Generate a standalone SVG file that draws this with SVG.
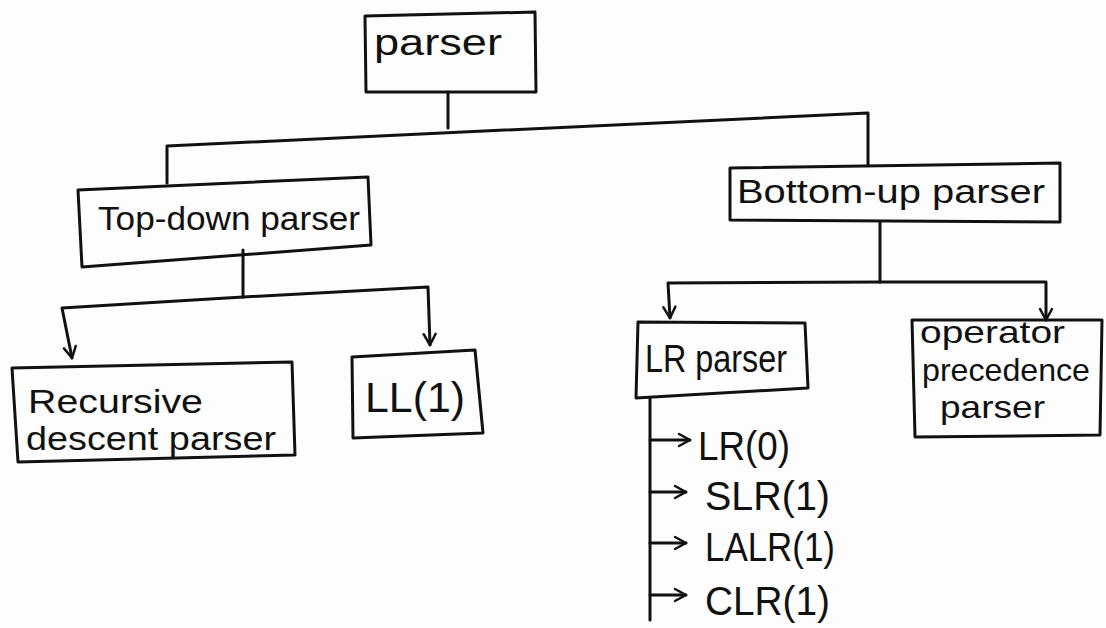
<svg xmlns="http://www.w3.org/2000/svg" width="1106" height="628" viewBox="0 0 1106 628">
<style>
.box{fill:none;stroke:#111;stroke-width:3;stroke-linejoin:round}
.ln{fill:none;stroke:#111;stroke-width:3;stroke-linecap:round;stroke-linejoin:round}
.t{font-family:"Liberation Sans",Arial,sans-serif;fill:#111}
</style>
<defs>
<marker id="ah" viewBox="0 0 16 16" refX="14" refY="8" markerWidth="16" markerHeight="16" markerUnits="userSpaceOnUse" orient="auto">
<path d="M3,2 L14,8 L3,14" fill="none" stroke="#111" stroke-width="2.5" stroke-linecap="round" stroke-linejoin="round"/>
</marker>
</defs>
<rect width="1106" height="628" fill="#fdfdfd"/>
<g id="connectors">
<path class="ln" d="M448,92 L448,128"/>
<path class="ln" d="M167,183 L167,146 L868,113 L868,165"/>
<path class="ln" d="M243,250 L243,297"/>
<path class="ln" d="M243,297 L62,308 L72,358" marker-end="url(#ah)"/>
<path class="ln" d="M243,297 L428,287 L430,345" marker-end="url(#ah)"/>
<path class="ln" d="M880,222 L880,282"/>
<path class="ln" d="M880,282 L668,283 L670,318" marker-end="url(#ah)"/>
<path class="ln" d="M880,282 L1046,282 L1046,320" marker-end="url(#ah)"/>
<path class="ln" d="M650,398 L650,620"/>
<path class="ln" d="M650,440 L690,440" marker-end="url(#ah)"/>
<path class="ln" d="M650,492 L686,492" marker-end="url(#ah)"/>
<path class="ln" d="M650,543 L686,543" marker-end="url(#ah)"/>
<path class="ln" d="M650,595 L686,595" marker-end="url(#ah)"/>
</g>
<g id="parser">
<polygon class="box" points="365,16 535,12 536,92 366,92"/>
<text class="t" x="374" y="55" font-size="36" textLength="128" lengthAdjust="spacingAndGlyphs">parser</text>
</g>
<g id="top-down">
<polygon class="box" points="78,190 368,177 371,245 82,267"/>
<text class="t" x="98" y="230" font-size="33" textLength="262" lengthAdjust="spacingAndGlyphs">Top-down parser</text>
</g>
<g id="bottom-up">
<polygon class="box" points="730,168 1060,163 1060,222 730,220"/>
<text class="t" x="737" y="203" font-size="34" textLength="308" lengthAdjust="spacingAndGlyphs">Bottom-up parser</text>
</g>
<g id="recursive">
<polygon class="box" points="12,368 292,362 295,455 18,462"/>
<text class="t" x="28" y="413" font-size="34" textLength="175" lengthAdjust="spacingAndGlyphs">Recursive</text>
<text class="t" x="26" y="450" font-size="34" textLength="250" lengthAdjust="spacingAndGlyphs">descent parser</text>
</g>
<g id="ll1">
<polygon class="box" points="352,357 475,350 483,433 353,438"/>
<text class="t" x="365" y="412" font-size="42" textLength="100" lengthAdjust="spacingAndGlyphs">LL(1)</text>
</g>
<g id="lr-parser">
<polygon class="box" points="638,322 805,323 808,388 636,398"/>
<text class="t" x="645" y="372" font-size="38" textLength="142" lengthAdjust="spacingAndGlyphs">LR parser</text>
</g>
<g id="operator-precedence">
<polygon class="box" points="912,320 1102,320 1100,435 915,437"/>
<text class="t" x="920" y="343" font-size="32" textLength="145" lengthAdjust="spacingAndGlyphs">operator</text>
<text class="t" x="922" y="381" font-size="32" textLength="168" lengthAdjust="spacingAndGlyphs">precedence</text>
<text class="t" x="940" y="418" font-size="32" textLength="105" lengthAdjust="spacingAndGlyphs">parser</text>
</g>
<g id="lr0"><text class="t" x="698" y="460" font-size="40" textLength="92" lengthAdjust="spacingAndGlyphs">LR(0)</text></g>
<g id="slr1"><text class="t" x="705" y="510" font-size="40" textLength="125" lengthAdjust="spacingAndGlyphs">SLR(1)</text></g>
<g id="lalr1"><text class="t" x="705" y="561" font-size="40" textLength="130" lengthAdjust="spacingAndGlyphs">LALR(1)</text></g>
<g id="clr1"><text class="t" x="705" y="615" font-size="40" textLength="125" lengthAdjust="spacingAndGlyphs">CLR(1)</text></g>
</svg>
